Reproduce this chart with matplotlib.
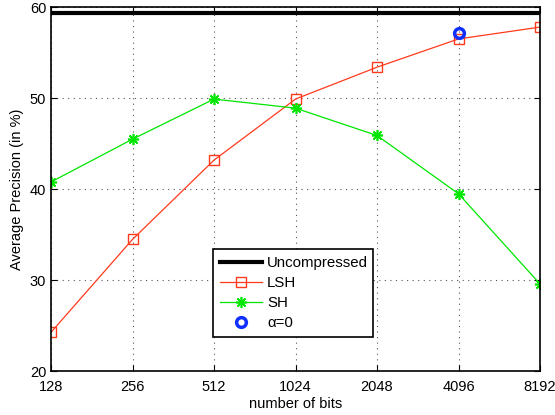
import matplotlib
matplotlib.use('Agg')
import matplotlib.pyplot as plt

bits = ['128', '256', '512', '1024', '2048', '4096', '8192']
uncompressed = 59.4
lsh = [24.3, 34.5, 43.2, 49.9, 53.4, 56.5, 57.8]
sh = [40.8, 45.5, 49.9, 48.9, 45.9, 39.5, 29.6]
alpha0_x = 5
alpha0_y = 57.1

plt.rcParams['font.family'] = ['Liberation Sans', 'DejaVu Sans']

fig = plt.figure(figsize=(5.55, 4.15), dpi=100)
ax = fig.add_axes([0.092, 0.105, 0.881, 0.878])

x = list(range(len(bits)))

# Ligne de référence (non compressé)
ax.axhline(uncompressed, color='black', linewidth=3, label='Uncompressed')
ax.plot(x, lsh, color='#ff3a1c', linewidth=0.9, marker='s', markersize=7,
        markerfacecolor='none', markeredgecolor='#ff3a1c', label='LSH')
ax.plot(x, sh, color='#00e600', linewidth=0.9, marker=(8, 2, 0), markersize=8,
        markeredgecolor='#00e600', markeredgewidth=1.2, label='SH')
ax.plot([alpha0_x], [alpha0_y], linestyle='none', marker='o', markersize=7,
        markerfacecolor='none', markeredgecolor='#1030ff', markeredgewidth=2.5,
        label='\u03b1=0')

ax.set_xlim(0, len(bits) - 1)
ax.set_ylim(20, 60)
ax.set_xticks(x)
ax.set_xticklabels(bits)
ax.set_yticks([20, 30, 40, 50, 60])
ax.tick_params(direction='in', top=True, right=True, labelsize=10.5, length=4)
ax.tick_params(axis='x', pad=6)
ax.grid(True, linestyle=(0, (1, 4)), color='#555555', linewidth=0.8)
for s in ax.spines.values():
    s.set_linewidth(1.2)

ax.set_xlabel('number of bits', fontsize=10.5, labelpad=2)
ax.set_ylabel('Average Precision (in %)', fontsize=10.5, labelpad=4)

leg = ax.legend(loc='lower left', bbox_to_anchor=(0.331, 0.095, 0.327, 0.244),
                mode='expand', borderaxespad=0, fontsize=10.8, fancybox=False,
                framealpha=1, edgecolor='black', handlelength=2.8,
                handletextpad=0.35, borderpad=0.45, labelspacing=0.4)
leg.get_frame().set_linewidth(1.2)

plt.savefig('out.png', dpi=100)
plt.close()
